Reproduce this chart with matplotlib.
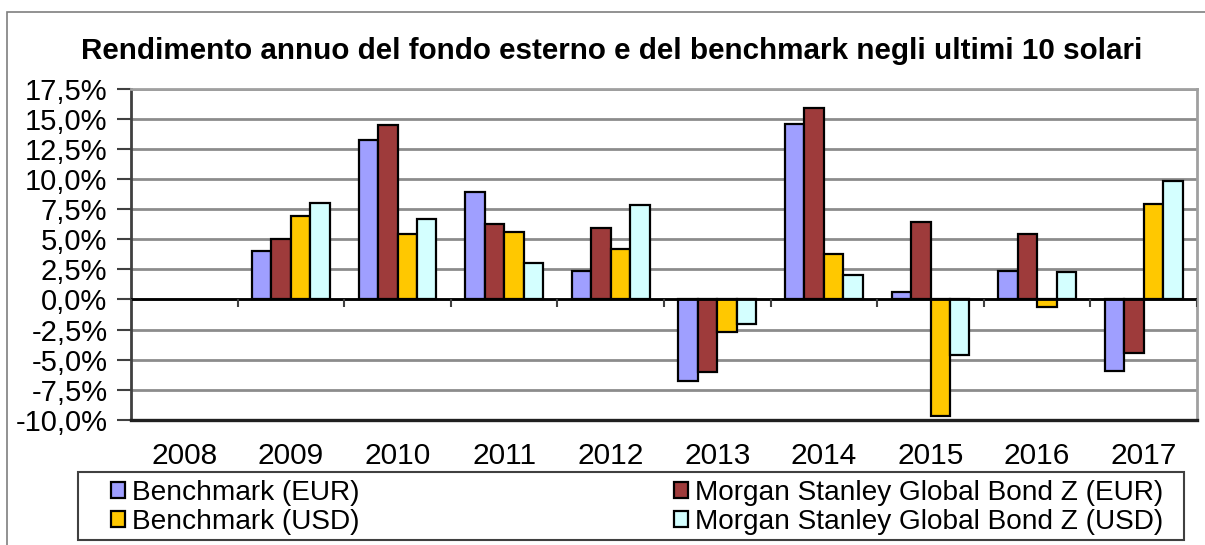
import numpy as np
import matplotlib.pyplot as plt
from matplotlib.patches import Rectangle
from matplotlib.ticker import FuncFormatter

plt.rcParams['font.family'] = ['Liberation Sans', 'DejaVu Sans']

years = ['2008', '2009', '2010', '2011', '2012', '2013', '2014', '2015', '2016', '2017']
series_names = ['Benchmark (EUR)', 'Morgan Stanley Global Bond Z (EUR)',
                'Benchmark (USD)', 'Morgan Stanley Global Bond Z (USD)']
bench_eur = [np.nan, 4.0, 13.2, 8.9, 2.4, -6.8, 14.6, 0.6, 2.4, -5.9]
ms_eur = [np.nan, 5.0, 14.5, 6.3, 5.9, -6.0, 15.9, 6.4, 5.4, -4.4]
bench_usd = [np.nan, 6.9, 5.4, 5.6, 4.2, -2.7, 3.8, -9.7, -0.6, 7.9]
ms_usd = [np.nan, 8.0, 6.7, 3.0, 7.8, -2.0, 2.0, -4.6, 2.3, 9.8]
colors = ['#9f9fff', '#9e3b3b', '#ffc800', '#d4ffff']
yticks = [-10.0, -7.5, -5.0, -2.5, 0.0, 2.5, 5.0, 7.5, 10.0, 12.5, 15.0, 17.5]

fig = plt.figure(figsize=(12.05, 5.45), dpi=100)

# outer chart frame
fig.patches.append(Rectangle((7 / 1205, -0.1), 1.2, 1 - 12 / 545 + 0.1,
                             transform=fig.transFigure, fill=False,
                             edgecolor='#7f7f7f', lw=1.2))

ax = fig.add_axes([131 / 1205, 1 - 420 / 545, (1197 - 131) / 1205, (420 - 88.6) / 545])

x = np.arange(len(years))
w = 0.182
data = [bench_eur, ms_eur, bench_usd, ms_usd]
handles = []
for i, vals in enumerate(data):
    b = ax.bar(x + (i - 1.5) * w, vals, w, color=colors[i], edgecolor='black',
               linewidth=1.6, label=series_names[i], zorder=3)
    handles.append(b)

ax.set_xlim(-0.5, len(years) - 0.5)
ax.set_ylim(-10, 17.5)
ax.set_yticks(yticks)
ax.yaxis.set_major_formatter(FuncFormatter(lambda v, p: ('%.1f%%' % v).replace('.', ',')))
ax.yaxis.grid(True, color='#8c8c8c', lw=2, zorder=0)
ax.set_xticks(x)
ax.set_xticklabels(years)
ax.tick_params(axis='x', length=0, pad=16, labelsize=21.5)
ax.tick_params(axis='y', length=10, width=1.5, color='#404040', pad=7, labelsize=21)

for s in ['top', 'right']:
    ax.spines[s].set_color('#a0a0a0')
    ax.spines[s].set_linewidth(2)
ax.spines['left'].set_linewidth(2)
ax.spines['left'].set_color('#404040')
ax.spines['bottom'].set_linewidth(2.4)
ax.spines['bottom'].set_color('#202020')

# zero line with category tick marks
ax.axhline(0, color='black', lw=2, zorder=4)
ax.vlines(np.arange(len(years) + 1) - 0.5, -0.6, 0, color='#404040', lw=1.5, zorder=4)

fig.text(612 / 1205, 1 - 51 / 545, 'Rendimento annuo del fondo esterno e del benchmark negli ultimi 10 solari',
         ha='center', va='center', fontsize=21.3, fontweight='bold')

# legend box drawn separately, entries spread inside it
fig.patches.append(Rectangle((78 / 1205, 1 - 540 / 545), (1184 - 78) / 1205, (540 - 472) / 545,
                             transform=fig.transFigure, fill=False,
                             edgecolor='#404040', lw=1.5))
order = [0, 2, 1, 3]
leg = fig.legend([handles[k] for k in order], [series_names[k] for k in order],
                 ncol=2, mode='expand', loc='lower left',
                 bbox_to_anchor=(108 / 1205, 1 - 538 / 545, (1166 - 108) / 1205, (538 - 474) / 545),
                 fontsize=20.2, frameon=False, borderaxespad=0,
                 handlelength=0.5, handleheight=0.5, handletextpad=0.25,
                 labelspacing=0.12, borderpad=0.1)

fig.savefig('out.png', dpi=100)
